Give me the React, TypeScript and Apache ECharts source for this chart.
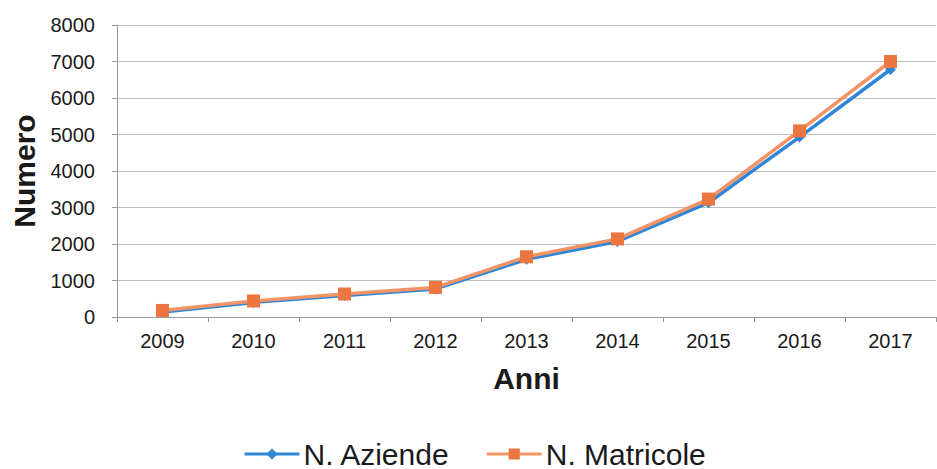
import React, { useEffect, useRef } from "react";
import * as echarts from "echarts";

const anni = ["2009", "2010", "2011", "2012", "2013", "2014", "2015", "2016", "2017"];
const aziende = [140, 400, 590, 770, 1580, 2070, 3130, 4930, 6780];
const matricole = [180, 440, 630, 810, 1650, 2140, 3230, 5100, 7000];

export default function App() {
  const ref = useRef<HTMLDivElement>(null);
  useEffect(() => {
    const chart = echarts.init(ref.current!, null, { renderer: "svg" });
    const font = "'Liberation Sans', Arial, sans-serif";
    chart.setOption({
      animation: false,
      backgroundColor: "#ffffff",
      textStyle: { fontFamily: font },
      grid: { left: 117, top: 25, right: 1, bottom: 152, containLabel: false },
      xAxis: {
        type: "category",
        data: anni,
        boundaryGap: true,
        name: "Anni",
        nameLocation: "middle",
        nameGap: 46,
        nameTextStyle: { fontSize: 30, fontWeight: "bold", color: "#1a1a1a", fontFamily: font },
        axisLine: { lineStyle: { color: "#999999", width: 1 } },
        axisTick: { show: true, alignWithLabel: false, length: 5, lineStyle: { color: "#999999" } },
        axisLabel: { fontSize: 20, color: "#1a1a1a", margin: 14, fontFamily: font },
      },
      yAxis: {
        type: "value",
        min: 0,
        max: 8000,
        interval: 1000,
        name: "Numero",
        nameLocation: "middle",
        nameGap: 78,
        nameTextStyle: { fontSize: 30, fontWeight: "bold", color: "#1a1a1a", fontFamily: font },
        axisLine: { show: true, lineStyle: { color: "#999999", width: 1 } },
        axisTick: { show: true, length: 5, lineStyle: { color: "#999999" } },
        axisLabel: {
          fontSize: 20,
          color: "#1a1a1a",
          margin: 22,
          fontFamily: font,
          formatter: (v: number) => String(v),
        },
        splitLine: { show: true, lineStyle: { color: "#bdbdbd", width: 1 } },
      },
      legend: {
        top: 438,
        left: 243,
        padding: 0,
        itemWidth: 55,
        itemHeight: 14,
        itemGap: 35,
        lineStyle: { width: 3 },
        textStyle: { fontSize: 30, lineHeight: 32, color: "#1a1a1a", fontFamily: font, padding: [0, 0, 0, -1] },
        data: ["N. Aziende", "N. Matricole"],
      },
      series: [
        {
          name: "N. Aziende",
          type: "line",
          data: aziende,
          symbol: "diamond",
          symbolSize: 11,
          lineStyle: { color: "#2f86d8", width: 3.5 },
          itemStyle: { color: "#2f86d8" },
        },
        {
          name: "N. Matricole",
          type: "line",
          data: matricole,
          symbol: "rect",
          symbolSize: 13,
          lineStyle: { color: "#f39466", width: 3.5 },
          itemStyle: { color: "#ec7640" },
        },
      ],
    });
    return () => chart.dispose();
  }, []);
  return <div ref={ref} style={{ width: 937, height: 469, position: "absolute", left: 0, top: 0 }} />;
}
